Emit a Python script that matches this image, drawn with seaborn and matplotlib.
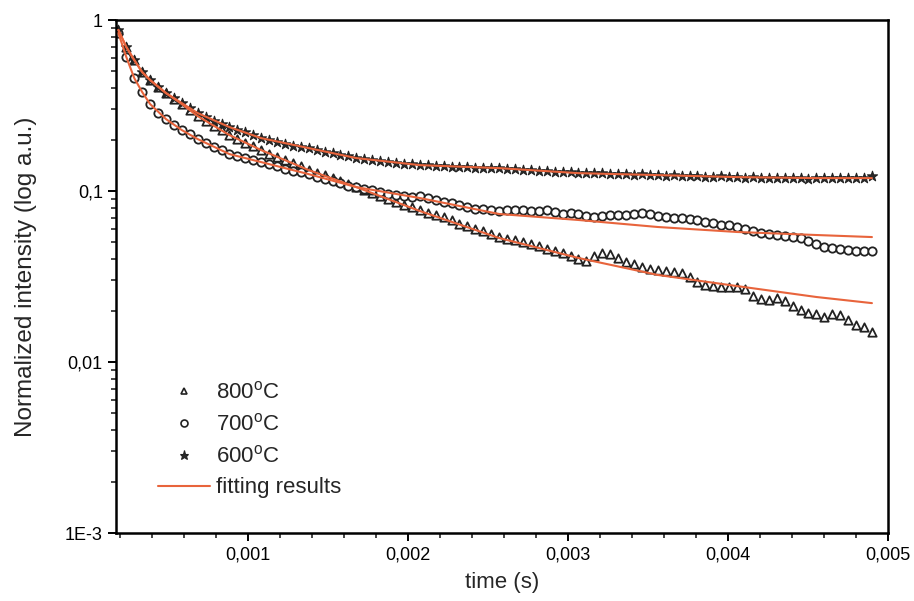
import numpy as np
import pandas as pd
import seaborn as sns
import matplotlib
matplotlib.use("Agg")
import matplotlib.pyplot as plt
from matplotlib.lines import Line2D
from matplotlib.ticker import FixedLocator, LogLocator, NullFormatter, MultipleLocator

# ---------------- data ----------------
# uniform sampling grid of the measured decays (s)
t_first = 0.00019
t_last = 0.0049
n_pts = 96
time_s = list(np.linspace(t_first, t_last, n_pts))

i_800 = [0.8739, 0.6950, 0.5833, 0.4961, 0.4455, 0.4054, 0.3739, 0.3449, 0.3224, 0.2973,
         0.2742, 0.2564, 0.2397, 0.2271, 0.2123, 0.2012, 0.1906, 0.1831, 0.1735, 0.1644,
         0.1579, 0.1516, 0.1456, 0.1398, 0.1325, 0.1272, 0.1239, 0.1190, 0.1143, 0.1097,
         0.1054, 0.1014, 0.0974, 0.0935, 0.0898, 0.0862, 0.0828, 0.0806, 0.0774, 0.0744,
         0.0724, 0.0705, 0.0677, 0.0641, 0.0624, 0.0599, 0.0583, 0.0560, 0.0538, 0.0524,
         0.0517, 0.0503, 0.0490, 0.0477, 0.0458, 0.0446, 0.0434, 0.0417, 0.0400, 0.0390,
         0.0417, 0.0434, 0.0428, 0.0406, 0.0384, 0.0374, 0.0359, 0.0350, 0.0345, 0.0340,
         0.0336, 0.0331, 0.0314, 0.0293, 0.0282, 0.0278, 0.0274, 0.0274, 0.0274, 0.0267,
         0.0243, 0.0234, 0.0230, 0.0237, 0.0227, 0.0212, 0.0201, 0.0193, 0.0191, 0.0183,
         0.0191, 0.0188, 0.0176, 0.0164, 0.0160, 0.0150]

i_700 = [0.8393, 0.6073, 0.4576, 0.3790, 0.3224, 0.2855, 0.2634, 0.2430, 0.2271, 0.2152,
         0.2012, 0.1906, 0.1806, 0.1735, 0.1644, 0.1600, 0.1558, 0.1516, 0.1476, 0.1436,
         0.1398, 0.1343, 0.1307, 0.1290, 0.1255, 0.1206, 0.1174, 0.1143, 0.1112, 0.1068,
         0.1054, 0.1026, 0.1014, 0.0987, 0.0961, 0.0948, 0.0935, 0.0923, 0.0935, 0.0910,
         0.0886, 0.0862, 0.0851, 0.0828, 0.0806, 0.0785, 0.0785, 0.0774, 0.0764, 0.0774,
         0.0774, 0.0774, 0.0764, 0.0764, 0.0774, 0.0754, 0.0734, 0.0744, 0.0734, 0.0714,
         0.0705, 0.0714, 0.0724, 0.0724, 0.0724, 0.0734, 0.0744, 0.0734, 0.0714, 0.0705,
         0.0695, 0.0695, 0.0686, 0.0677, 0.0659, 0.0650, 0.0633, 0.0633, 0.0616, 0.0599,
         0.0583, 0.0568, 0.0560, 0.0553, 0.0545, 0.0538, 0.0531, 0.0510, 0.0490, 0.0470,
         0.0464, 0.0458, 0.0452, 0.0446, 0.0446, 0.0446]

i_600 = [0.8739, 0.6950, 0.5833, 0.4961, 0.4455, 0.4054, 0.3739, 0.3495, 0.3267, 0.3054,
         0.2855, 0.2705, 0.2564, 0.2463, 0.2365, 0.2271, 0.2211, 0.2123, 0.2039, 0.1985,
         0.1932, 0.1881, 0.1831, 0.1806, 0.1782, 0.1735, 0.1689, 0.1666, 0.1622, 0.1600,
         0.1558, 0.1537, 0.1516, 0.1496, 0.1476, 0.1456, 0.1436, 0.1436, 0.1417, 0.1417,
         0.1398, 0.1398, 0.1380, 0.1380, 0.1380, 0.1361, 0.1361, 0.1361, 0.1361, 0.1343,
         0.1343, 0.1325, 0.1325, 0.1307, 0.1307, 0.1290, 0.1290, 0.1290, 0.1272, 0.1272,
         0.1272, 0.1272, 0.1255, 0.1255, 0.1255, 0.1239, 0.1255, 0.1239, 0.1239, 0.1222,
         0.1239, 0.1222, 0.1222, 0.1222, 0.1206, 0.1206, 0.1222, 0.1206, 0.1206, 0.1190,
         0.1206, 0.1190, 0.1190, 0.1190, 0.1190, 0.1190, 0.1190, 0.1174, 0.1190, 0.1190,
         0.1190, 0.1190, 0.1190, 0.1190, 0.1190, 0.1222]

fit_idx = [0, 1, 2, 3, 4, 6, 8, 10, 14, 18, 24, 30, 38, 48, 58, 68, 78, 88, 95]
fit_time = [time_s[i] for i in fit_idx]
fit_800 = [0.8739, 0.6950, 0.5833, 0.4961, 0.4455, 0.3739, 0.3224, 0.2742, 0.2123, 0.1735,
           0.1325, 0.1054, 0.0764, 0.0531, 0.0406, 0.0323, 0.0278, 0.0240, 0.0221]
fit_700 = [0.8393, 0.6073, 0.4576, 0.3790, 0.3224, 0.2634, 0.2271, 0.2012, 0.1644, 0.1476,
           0.1255, 0.1054, 0.0910, 0.0734, 0.0677, 0.0616, 0.0576, 0.0553, 0.0538]
fit_600 = [0.8739, 0.6950, 0.5833, 0.4961, 0.4455, 0.3739, 0.3267, 0.2855, 0.2365, 0.2039,
           0.1782, 0.1558, 0.1417, 0.1361, 0.1272, 0.1239, 0.1206, 0.1190, 0.1190]

labels = ["800$^{\\rm o}$C", "700$^{\\rm o}$C", "600$^{\\rm o}$C", "fitting results"]
x_ticks = [0.001, 0.002, 0.003, 0.004, 0.005]
x_tick_labels = ["0,001", "0,002", "0,003", "0,004", "0,005"]
y_ticks = [0.001, 0.01, 0.1, 1]
y_tick_labels = ["1E-3", "0,01", "0,1", "1"]

# ---------------- style ----------------
sns.set_theme(style="white")
plt.rcParams["font.family"] = ["Liberation Sans", "DejaVu Sans"]
plt.rcParams["mathtext.fontset"] = "custom"
plt.rcParams["mathtext.rm"] = "Liberation Sans"
plt.rcParams["mathtext.it"] = "Liberation Sans:italic"

fit_color = "#e8643c"
edge = "#222222"

fig = plt.figure(figsize=(9.14, 6.01), dpi=100)
ax = fig.add_axes([0.1269, 0.1131, 0.8446, 0.8536])

df = pd.DataFrame({"t": time_s, "i800": i_800, "i700": i_700, "i600": i_600})
fdf = pd.DataFrame({"t": fit_time, "f800": fit_800, "f700": fit_700, "f600": fit_600})

sns.scatterplot(data=df, x="t", y="i800", marker="^", facecolor="white", edgecolor=edge,
                s=36, linewidth=1.3, zorder=2, legend=False, ax=ax)
sns.scatterplot(data=df, x="t", y="i700", marker="o", facecolor="white", edgecolor=edge,
                s=36, linewidth=1.3, zorder=2, legend=False, ax=ax)
sns.scatterplot(data=df, x="t", y="i600", marker="*", facecolor="#2a2a2a", edgecolor=edge,
                s=58, linewidth=0.8, zorder=2, legend=False, ax=ax)

for col in ["f800", "f700", "f600"]:
    sns.lineplot(data=fdf, x="t", y=col, color=fit_color, linewidth=1.5, ax=ax, sort=False,
                 estimator=None, zorder=3, legend=False)

ax.set_yscale("log")
ax.set_xlim(0.000175, 0.005)
ax.set_ylim(0.001, 1)

ax.xaxis.set_major_locator(FixedLocator(x_ticks))
ax.set_xticklabels(x_tick_labels)
ax.xaxis.set_minor_locator(MultipleLocator(0.0002))
ax.yaxis.set_major_locator(FixedLocator(y_ticks))
ax.set_yticklabels(y_tick_labels)
ax.yaxis.set_minor_locator(LogLocator(base=10, subs=np.arange(2, 10)))
ax.yaxis.set_minor_formatter(NullFormatter())

ax.tick_params(axis="both", which="major", direction="out", length=6, width=1.4,
               labelsize=13, colors="black", bottom=True, left=True, top=False, right=False)
ax.tick_params(axis="both", which="minor", direction="out", length=3.5, width=1.2,
               bottom=True, left=True, top=False, right=False)
for sp in ax.spines.values():
    sp.set_visible(True)
    sp.set_color("black")
    sp.set_linewidth(1.8)

ax.set_xlabel("time (s)", fontsize=16, labelpad=6)
ax.set_ylabel("Normalized intensity (log a.u.)", fontsize=17.5, labelpad=20)

handles = [
    Line2D([], [], linestyle="", marker="^", markerfacecolor="white", markeredgecolor=edge, markersize=5, markeredgewidth=1.2),
    Line2D([], [], linestyle="", marker="o", markerfacecolor="white", markeredgecolor=edge, markersize=5, markeredgewidth=1.2),
    Line2D([], [], linestyle="", marker="*", markerfacecolor="#2a2a2a", markeredgecolor=edge, markersize=6.5, markeredgewidth=0.8),
    Line2D([], [], color=fit_color, linewidth=1.5),
]
ax.legend(handles, labels, loc="lower left", bbox_to_anchor=(0.034, 0.037), frameon=False,
          fontsize=16, handlelength=2.35, handletextpad=0.25, labelspacing=0.45, borderaxespad=0.3)

fig.savefig("out.png", dpi=100, facecolor="white")
